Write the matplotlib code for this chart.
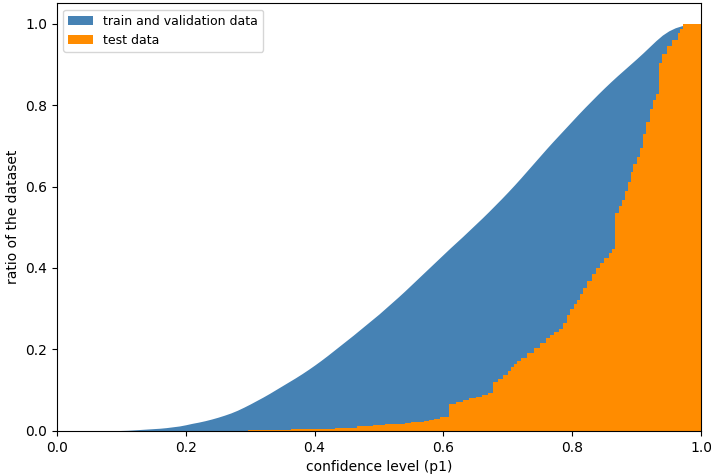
import numpy as np
import matplotlib
matplotlib.use("Agg")
import matplotlib.pyplot as plt

# confidence level grid for the train/validation cumulative curve
p1_grid = np.linspace(0.0, 1.0, 101)

# cumulative ratio of train and validation data at each grid point
train_val = [
    0, 0, 0, 0, 0, 0, 0, 0, 0, 0,                                              # 0.00-0.09
    0.001, 0.0015, 0.0025, 0.0035, 0.0045, 0.0055, 0.0065, 0.008, 0.010, 0.012,  # 0.10-0.19
    0.015, 0.0185, 0.0215, 0.025, 0.029, 0.0335, 0.0385, 0.044, 0.0505, 0.058,   # 0.20-0.29
    0.066, 0.0745, 0.083, 0.092, 0.1015, 0.111, 0.1205, 0.130, 0.140, 0.1505,    # 0.30-0.39
    0.1615, 0.173, 0.185, 0.1975, 0.210, 0.2225, 0.2350, 0.2480, 0.2610, 0.2740, # 0.40-0.49
    0.287, 0.301, 0.315, 0.329, 0.3435, 0.3585, 0.3735, 0.3885, 0.4035, 0.4185,  # 0.50-0.59
    0.4335, 0.4485, 0.463, 0.4775, 0.4925, 0.5075, 0.5225, 0.538, 0.554, 0.570,  # 0.60-0.69
    0.5865, 0.6035, 0.621, 0.639, 0.657, 0.675, 0.693, 0.7105, 0.7275, 0.7445,   # 0.70-0.79
    0.7615, 0.7785, 0.795, 0.811, 0.827, 0.8425, 0.8575, 0.872, 0.886, 0.900,    # 0.80-0.89
    0.914, 0.9285, 0.9435, 0.9585, 0.972, 0.9825, 0.990, 0.995, 0.998, 0.9995,   # 0.90-0.99
    1.0,                                                                         # 1.00
]

# test data: confidence levels where the cumulative ratio steps, and the level after each step
test_edges = [
    0.297, 0.364, 0.432, 0.466, 0.48, 0.49, 0.50, 0.51, 0.52, 0.53,
    0.54, 0.55, 0.56, 0.57, 0.578, 0.585, 0.595, 0.603, 0.609, 0.62,
    0.63, 0.64, 0.65, 0.66, 0.67, 0.677, 0.685, 0.692, 0.70, 0.705,
    0.71, 0.715, 0.72, 0.73, 0.74, 0.75, 0.76, 0.766, 0.772, 0.78,
    0.786, 0.792, 0.797, 0.802, 0.807, 0.812, 0.817, 0.823, 0.83, 0.837,
    0.843, 0.85, 0.857, 0.862, 0.866, 0.872, 0.877, 0.882, 0.887, 0.891,
    0.895, 0.90, 0.905, 0.91, 0.915, 0.92, 0.925, 0.93, 0.935, 0.94,
    0.947, 0.955, 0.964, 0.968, 0.972, 0.98, 1.0,
]
test_levels = [
    0.002, 0.004, 0.006, 0.012, 0.013, 0.014, 0.015, 0.016, 0.017, 0.018,
    0.019, 0.021, 0.022, 0.024, 0.027, 0.030, 0.033, 0.035, 0.066, 0.070,
    0.075, 0.080, 0.084, 0.088, 0.094, 0.121, 0.128, 0.137, 0.148, 0.158,
    0.165, 0.172, 0.180, 0.192, 0.203, 0.215, 0.228, 0.236, 0.242, 0.250,
    0.265, 0.285, 0.300, 0.312, 0.322, 0.335, 0.350, 0.368, 0.385, 0.400,
    0.413, 0.425, 0.437, 0.447, 0.536, 0.552, 0.568, 0.590, 0.612, 0.635,
    0.655, 0.672, 0.695, 0.730, 0.758, 0.790, 0.812, 0.828, 0.904, 0.925,
    0.944, 0.960, 0.978, 0.988, 0.998, 1.0,
]

series_labels = ["train and validation data", "test data"]
series_colors = ["steelblue", "darkorange"]

fig = plt.figure(figsize=(7.11, 4.74), dpi=100)
ax = fig.add_axes([0.080, 0.091, 0.906, 0.902])

ax.fill_between(p1_grid, train_val, 0, color=series_colors[0], linewidth=0,
                label=series_labels[0])
ax.stairs(test_levels, test_edges, fill=True, color=series_colors[1],
          label=series_labels[1])

ax.set_xlim(0, 1)
ax.set_ylim(0, 1.05)
ax.set_xlabel("confidence level (p1)")
ax.set_ylabel("ratio of the dataset")
ax.legend(loc="upper left", fontsize=9)

fig.savefig("out.png", dpi=100)
